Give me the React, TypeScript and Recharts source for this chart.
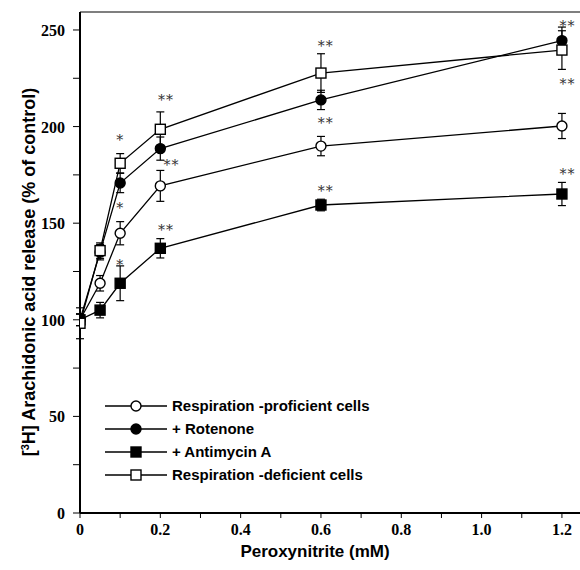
import React from 'react';
import { ComposedChart, Line, XAxis, YAxis, ErrorBar, Scatter, Legend, ReferenceLine, Label } from 'recharts';

const doses = [0, 0.05, 0.1, 0.2, 0.6, 1.2];
const proficientVals = [100, 118.9, 144.8, 169.3, 189.9, 200.3];
const proficientErr = [3, 4, 6, 8, 5, 6.5];
const rotenoneVals = [100, 135, 170.8, 188.6, 213.8, 244.5];
const rotenoneErr = [3, 4, 5, 6, 5, 7];
const antimycinVals = [100, 105, 118.9, 137, 159.4, 165.1];
const antimycinErr = [3, 4, 9, 5, 3, 6];
const deficientVals = [98.2, 135.8, 181, 198.6, 227.7, 239.6];
const deficientErr = [8, 4, 5, 9, 10, 10];

const starX = [0.1, 0.1, 0.1, 0.214, 0.228, 0.214, 0.612, 0.612, 0.612, 1.214, 1.214, 1.214];
const starY = [194.6, 159.4, 130, 215.3, 181.7, 148.2, 243.4, 203.6, 168.2, 253.8, 223.6, 177];
const starText = ['*', '*', '*', '**', '**', '**', '**', '**', '**', '**', '**', '**'];

const yTicks = [0, 25, 50, 75, 100, 125, 150, 175, 200, 225, 250];
const xTicks = [0, 0.1, 0.2, 0.3, 0.4, 0.5, 0.6, 0.7, 0.8, 0.9, 1.0, 1.1, 1.2];

const legendNames = ['Respiration -proficient cells', '+ Rotenone', '+ Antimycin A', 'Respiration -deficient cells'];

const build = (vals: number[], errs: number[]) => doses.map((x, i) => ({ x, y: vals[i], err: errs[i] }));
const proficientData = build(proficientVals, proficientErr);
const rotenoneData = build(rotenoneVals, rotenoneErr);
const antimycinData = build(antimycinVals, antimycinErr);
const deficientData = build(deficientVals, deficientErr);
const starData = starX.map((x, i) => ({ x, y: starY[i], t: starText[i] }));

const circleDot = (fill: string) => (props: any) => {
  const { cx, cy, index } = props;
  return <circle key={`c${index}`} cx={cx} cy={cy} r={5} fill={fill} stroke="#000" strokeWidth={1.4} />;
};
const squareDot = (fill: string) => (props: any) => {
  const { cx, cy, index } = props;
  return <rect key={`s${index}`} x={cx - 5} y={cy - 5} width={10} height={10} fill={fill} stroke="#000" strokeWidth={1.4} />;
};

const YTick = (props: any) => {
  const { x, y, payload } = props;
  const major = payload.value % 50 === 0;
  return (
    <g>
      <line x1={x - 7} x2={x} y1={y} y2={y} stroke="#000" strokeWidth={1} />
      {major && (
        <text x={x - 15} y={y + 6} textAnchor="end" fontFamily="'Liberation Serif', 'Times New Roman', serif" fontWeight="bold" fontSize={16} fill="#000">
          {payload.value}
        </text>
      )}
    </g>
  );
};

const XTick = (props: any) => {
  const { x, y, payload } = props;
  const tenth = Math.round(payload.value * 10);
  const major = tenth % 2 === 0;
  return (
    <g>
      <line x1={x} x2={x} y1={y} y2={y + 5} stroke="#000" strokeWidth={1} />
      {major && (
        <text x={x} y={y + 22} textAnchor="middle" fontFamily="'Liberation Serif', 'Times New Roman', serif" fontWeight="bold" fontSize={16} fill="#000">
          {tenth === 0 ? '0' : payload.value.toFixed(1)}
        </text>
      )}
    </g>
  );
};

const StarShape = (props: any) => {
  const { cx, cy, payload } = props;
  return (
    <text x={cx} y={cy + 8} textAnchor="middle" fontFamily="'DejaVu Serif', serif" fontSize={14} letterSpacing={1} fill="#333">
      {payload.t}
    </text>
  );
};

const LegendMarker = ({ i }: { i: number }) => {
  const fill = i === 0 || i === 3 ? '#fff' : '#000';
  return (
    <svg width={64} height={16} style={{ display: 'block' }}>
      <line x1={0} x2={62} y1={8} y2={8} stroke="#000" strokeWidth={1.3} />
      {i < 2 ? (
        <circle cx={31} cy={8} r={5} fill={fill} stroke="#000" strokeWidth={1.4} />
      ) : (
        <rect x={26} y={3} width={10} height={10} fill={fill} stroke="#000" strokeWidth={1.4} />
      )}
    </svg>
  );
};

const LegendBox = () => (
  <div style={{ fontFamily: "'Liberation Sans', Arial, sans-serif", fontWeight: 'bold', fontSize: 15, color: '#000' }}>
    {legendNames.map((n, i) => (
      <div key={n} style={{ display: 'flex', alignItems: 'center', height: 23 }}>
        <LegendMarker i={i} />
        <span style={{ marginLeft: 3, whiteSpace: 'nowrap' }}>{n}</span>
      </div>
    ))}
  </div>
);

const YTitle = () => (
  <text x={35} y={272} transform="rotate(-90 35 272)" textAnchor="middle" fontFamily="'Liberation Sans', Arial, sans-serif" fontWeight="bold" fontSize={18} fill="#000">
    [<tspan baselineShift="super" fontSize={11}>3</tspan>H] Arachidonic acid release (% of control)
  </text>
);

const XTitle = () => (
  <text x={315} y={557} textAnchor="middle" fontFamily="'Liberation Sans', Arial, sans-serif" fontWeight="bold" fontSize={17} fill="#000">
    Peroxynitrite (mM)
  </text>
);

export default function App() {
  return (
    <div style={{ position: 'absolute', left: 0, top: 0 }}>
      <ComposedChart width={580} height={570} margin={{ top: 12, right: 0, bottom: 0, left: 0 }}>
        <XAxis
          dataKey="x"
          type="number"
          domain={[0, 1.245]}
          ticks={xTicks}
          allowDataOverflow
          height={57}
          tickSize={0}
          tickMargin={0}
          tickLine={false}
          tick={<XTick />}
          axisLine={{ stroke: '#000', strokeWidth: 2 }}
          label={<Label content={() => <XTitle />} />}
        />
        <YAxis
          type="number"
          domain={[0, 259.3]}
          ticks={yTicks}
          allowDataOverflow
          width={80}
          tickSize={0}
          tickMargin={0}
          tickLine={false}
          tick={<YTick />}
          axisLine={{ stroke: '#000', strokeWidth: 2 }}
          label={<Label content={() => <YTitle />} />}
        />
        <ReferenceLine y={259.3} stroke="#555" strokeWidth={1.5} ifOverflow="extendDomain" />
        <Line data={antimycinData} dataKey="y" stroke="#000" strokeWidth={1.3} dot={squareDot('#000')} isAnimationActive={false}>
          <ErrorBar dataKey="err" width={4} stroke="#000" strokeWidth={1.2} direction="y" />
        </Line>
        <Line data={proficientData} dataKey="y" stroke="#000" strokeWidth={1.3} dot={circleDot('#fff')} isAnimationActive={false}>
          <ErrorBar dataKey="err" width={4} stroke="#000" strokeWidth={1.2} direction="y" />
        </Line>
        <Line data={rotenoneData} dataKey="y" stroke="#000" strokeWidth={1.3} dot={circleDot('#000')} isAnimationActive={false}>
          <ErrorBar dataKey="err" width={4} stroke="#000" strokeWidth={1.2} direction="y" />
        </Line>
        <Line data={deficientData} dataKey="y" stroke="#000" strokeWidth={1.3} dot={squareDot('#fff')} isAnimationActive={false}>
          <ErrorBar dataKey="err" width={4} stroke="#000" strokeWidth={1.2} direction="y" />
        </Line>
        <Scatter data={starData} dataKey="y" fill="#333" shape={<StarShape />} isAnimationActive={false} />
        <Legend
          layout="vertical"
          align="center"
          verticalAlign="middle"
          wrapperStyle={{ position: 'absolute', left: 105, top: 394, width: 340, height: 95 }}
          content={() => <LegendBox />}
        />
      </ComposedChart>
    </div>
  );
}
